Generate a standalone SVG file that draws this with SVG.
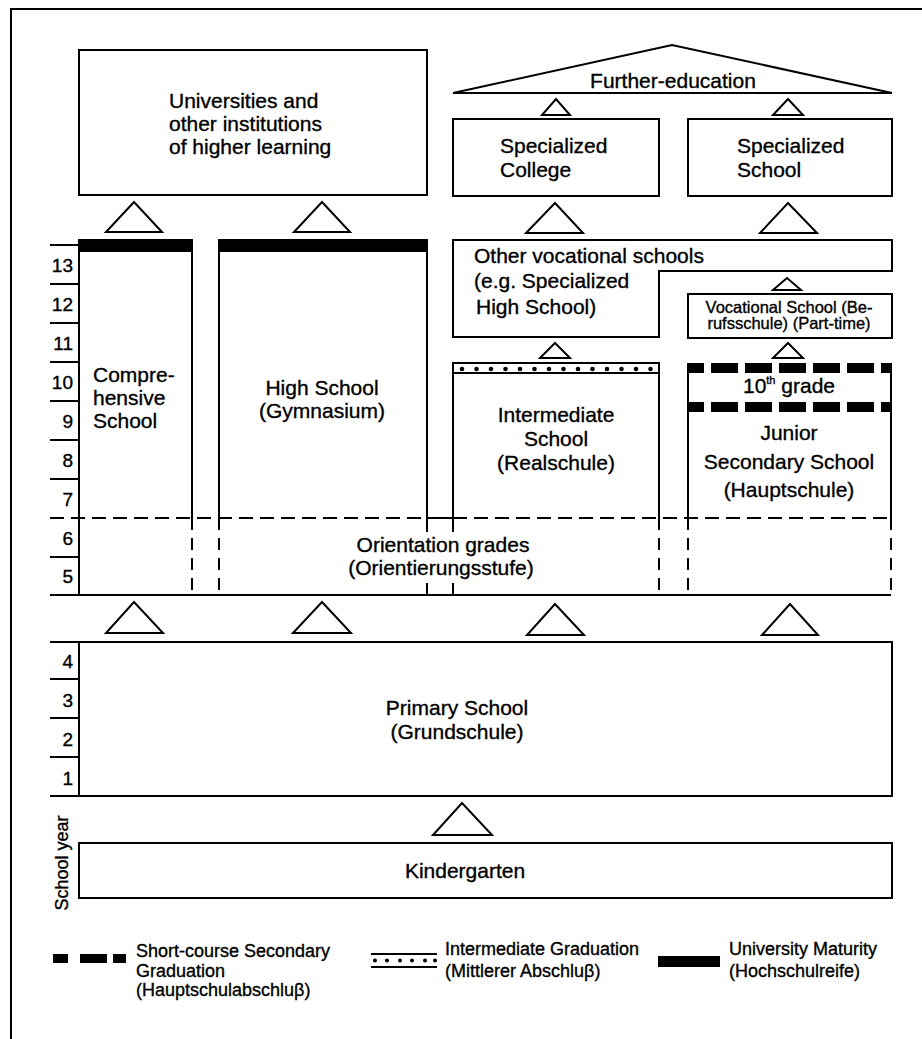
<svg xmlns="http://www.w3.org/2000/svg" width="922" height="1039" viewBox="0 0 922 1039">
<style>
  text { font-family: "Liberation Sans", Arial, sans-serif; fill: #000; stroke: #000; stroke-width: 0.35; }
  .t { font-size: 21px; }
  .m { font-size: 21px; text-anchor: middle; }
  .yr { font-size: 19px; text-anchor: end; }
  .lg { font-size: 18px; }
  .sm { font-size: 16.5px; text-anchor: middle; }
  .box { fill: #fff; stroke: #000; stroke-width: 2; }
  .ln { fill: none; stroke: #000; stroke-width: 2; }
  .dh { fill: none; stroke: #000; stroke-width: 2; stroke-dasharray: 14 7; }
  .dv { fill: none; stroke: #000; stroke-width: 2; stroke-dasharray: 12 8; }
  .tri { fill: #fff; stroke: #000; stroke-width: 2; stroke-linejoin: miter; }
  .thick { fill: none; stroke: #000; stroke-width: 10; stroke-dasharray: 27 7; stroke-dashoffset: 12; }
</style>

<!-- frame -->
<g id="frame">
  <path class="ln" d="M11 1039 V9 H922"/>
</g>

<!-- year scale -->
<g id="year-scale">
  <path class="ln" d="M50 245 H79 M50 284 H79 M50 323 H79 M50 362 H79 M50 401 H79 M50 440 H79 M50 479 H79 M50 557 H79"/>
  <path class="ln" d="M50 679 H79 M50 718 H79 M50 757 H79"/>
  <text class="yr" x="73" y="271.5">13</text>
  <text class="yr" x="73" y="310.5">12</text>
  <text class="yr" x="73" y="349.5">11</text>
  <text class="yr" x="73" y="388.5">10</text>
  <text class="yr" x="73" y="427.5">9</text>
  <text class="yr" x="73" y="466.5">8</text>
  <text class="yr" x="73" y="505.5">7</text>
  <text class="yr" x="73" y="544.5">6</text>
  <text class="yr" x="73" y="583">5</text>
  <text class="yr" x="73" y="668">4</text>
  <text class="yr" x="73" y="707">3</text>
  <text class="yr" x="73" y="746">2</text>
  <text class="yr" x="73" y="785">1</text>
  <text class="lg" transform="translate(68,863) rotate(-90)" text-anchor="middle">School year</text>
</g>

<!-- Universities -->
<g id="universities">
  <rect class="box" x="79" y="50" width="348" height="145"/>
  <text class="t" x="169" y="108">Universities and</text>
  <text class="t" x="169" y="131">other institutions</text>
  <text class="t" x="169" y="154">of higher learning</text>
</g>

<!-- Further education -->
<g id="further-education">
  <polygon class="tri" points="453,93 892,93 672,45"/>
  <text class="m" x="673" y="88">Further-education</text>
</g>

<g id="specialized-college">
  <rect class="box" x="453" y="119" width="206" height="77"/>
  <text class="t" x="500" y="153">Specialized</text>
  <text class="t" x="500" y="177">College</text>
</g>

<g id="specialized-school">
  <rect class="box" x="688" y="119" width="204" height="77"/>
  <text class="t" x="737" y="153">Specialized</text>
  <text class="t" x="737" y="177">School</text>
</g>

<g id="other-vocational">
  <polygon class="box" points="453,240 892,240 892,271 659,271 659,337 453,337"/>
  <text class="t" x="474" y="263">Other vocational schools</text>
  <text class="t" x="474" y="288">(e.g. Specialized</text>
  <text class="t" x="476" y="314">High School)</text>
</g>

<g id="vocational-school">
  <rect class="box" x="688" y="294" width="204" height="44"/>
  <text class="sm" x="789" y="313">Vocational School (Be-</text>
  <text class="sm" x="789" y="329">rufsschule) (Part-time)</text>
</g>

<!-- Comprehensive -->
<g id="comprehensive">
  <path class="ln" d="M79 239 V595 M192 239 V518"/>
  <path class="dv" d="M192 518 V595"/>
  <rect x="79" y="239" width="114" height="13" fill="#000"/>
  <text class="t" x="93" y="382">Compre-</text>
  <text class="t" x="93" y="405">hensive</text>
  <text class="t" x="93" y="428">School</text>
</g>

<!-- High School -->
<g id="high-school">
  <path class="ln" d="M219 239 V518 M427 239 V518"/>
  <path class="dv" d="M219 518 V595"/>
  <path class="ln" d="M427 518 V532 M427 583 V595"/>
  <rect x="219" y="239" width="208" height="13" fill="#000"/>
  <text class="m" x="322" y="395">High School</text>
  <text class="m" x="322" y="418">(Gymnasium)</text>
</g>

<!-- Intermediate School -->
<g id="intermediate-school">
  <path class="ln" d="M453 518 V363 H659 V518 M453 373 H659"/>
  <path class="ln" d="M453 518 V532 M453 583 V595"/>
  <path class="dv" d="M659 518 V595"/>
  <g fill="#000">
    <circle cx="462" cy="369" r="2.3"/><circle cx="476.5" cy="369" r="2.3"/><circle cx="491" cy="369" r="2.3"/>
    <circle cx="505.5" cy="369" r="2.3"/><circle cx="520" cy="369" r="2.3"/><circle cx="534.5" cy="369" r="2.3"/>
    <circle cx="549" cy="369" r="2.3"/><circle cx="563.5" cy="369" r="2.3"/><circle cx="578" cy="369" r="2.3"/>
    <circle cx="592.5" cy="369" r="2.3"/><circle cx="607" cy="369" r="2.3"/><circle cx="621.5" cy="369" r="2.3"/>
    <circle cx="636" cy="369" r="2.3"/><circle cx="650.5" cy="369" r="2.3"/>
  </g>
  <text class="m" x="556" y="422">Intermediate</text>
  <text class="m" x="556" y="446">School</text>
  <text class="m" x="556" y="470">(Realschule)</text>
</g>

<!-- Junior Secondary -->
<g id="junior-secondary">
  <path class="ln" d="M688 363 V518 M891 363 V518"/>
  <path class="dv" d="M688 518 V595 M891 518 V595"/>
  <path class="thick" d="M689 368 H891 M689 407 H891"/>
  <text class="m" x="789" y="393">10<tspan font-size="11" dy="-9">th</tspan><tspan dy="9"> grade</tspan></text>
  <text class="m" x="789" y="440">Junior</text>
  <text class="m" x="789" y="469">Secondary School</text>
  <text class="m" x="789" y="497">(Hauptschule)</text>
</g>

<!-- Orientation grades -->
<g id="orientation-grades">
  <path class="dh" d="M50 518 H427"/>
  <path class="ln" d="M427 518 H453"/>
  <path class="dh" d="M453 518 H891"/>
  <path class="ln" d="M50 595 H891"/>
  <text class="m" x="443" y="552">Orientation grades</text>
  <text class="m" x="441" y="575">(Orientierungsstufe)</text>
</g>

<!-- Primary -->
<g id="primary-school">
  <path class="ln" d="M50 642 H892 V796 H50 M79 642 V796"/>
  <text class="m" x="457" y="715">Primary School</text>
  <text class="m" x="457" y="739">(Grundschule)</text>
</g>

<!-- Kindergarten -->
<g id="kindergarten">
  <rect class="box" x="79" y="843" width="813" height="55"/>
  <text class="m" x="465" y="878">Kindergarten</text>
</g>

<!-- connectors (transition triangles) -->
<g id="connectors">
  <polygon class="tri" points="106,232 162,232 134,202"/>
  <polygon class="tri" points="294,232 350,232 322,202"/>
  <polygon class="tri" points="542,115 570,115 556,99"/>
  <polygon class="tri" points="773,115 803,115 788,99"/>
  <polygon class="tri" points="526,233 583,233 555,203"/>
  <polygon class="tri" points="760,233 817,233 788,203"/>
  <polygon class="tri" points="773,290 801,290 787,278"/>
  <polygon class="tri" points="540,358 570,358 555,343"/>
  <polygon class="tri" points="773,358 803,358 788,343"/>
  <polygon class="tri" points="106,633 163,633 134,602"/>
  <polygon class="tri" points="293,633 351,633 322,602"/>
  <polygon class="tri" points="527,635 584,635 555,604"/>
  <polygon class="tri" points="762,635 818,635 790,604"/>
  <polygon class="tri" points="433,835 492,835 462,803"/>
</g>

<!-- legend -->
<g id="legend">
  <g fill="#000">
    <rect x="53" y="954" width="15" height="9"/>
    <rect x="80" y="954" width="27" height="9"/>
    <rect x="113" y="954" width="13" height="9"/>
  </g>
  <text class="lg" x="136" y="957">Short-course Secondary</text>
  <text class="lg" x="136" y="977">Graduation</text>
  <text class="lg" x="136" y="996">(Hauptschulabschluβ)</text>

  <path class="ln" d="M371 954 H437 M371 967 H437" stroke-width="1.5"/>
  <g fill="#000">
    <circle cx="375" cy="960.5" r="2"/><circle cx="387" cy="960.5" r="2"/><circle cx="400" cy="960.5" r="2"/>
    <circle cx="412" cy="960.5" r="2"/><circle cx="425" cy="960.5" r="2"/><circle cx="435" cy="960.5" r="2"/>
  </g>
  <text class="lg" x="445" y="955">Intermediate Graduation</text>
  <text class="lg" x="445" y="977">(Mittlerer Abschluβ)</text>

  <rect x="658" y="956" width="62" height="11" fill="#000"/>
  <text class="lg" x="729" y="955">University Maturity</text>
  <text class="lg" x="729" y="977">(Hochschulreife)</text>
</g>
</svg>
